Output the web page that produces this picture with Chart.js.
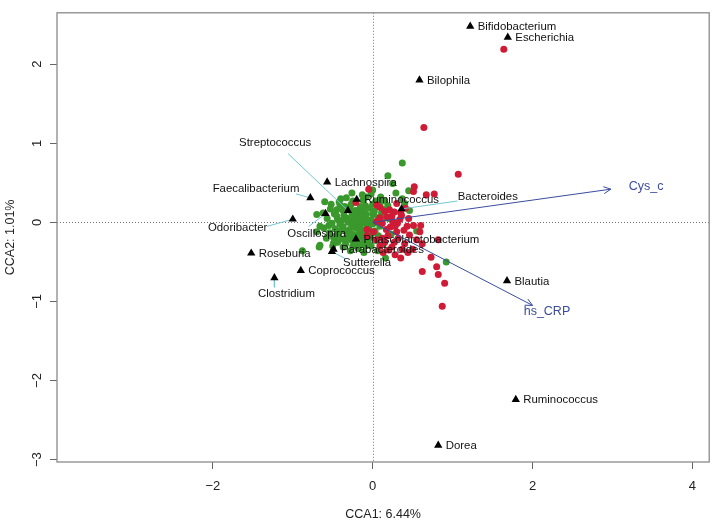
<!DOCTYPE html>
<html>
<head>
<meta charset="utf-8">
<script src="https://cdn.jsdelivr.net/npm/chart.js@4/dist/chart.umd.min.js"></script>
<style>
  html, body { margin: 0; padding: 0; background: #fff; }
</style>
</head>
<body>
<canvas id="cca" width="714" height="523"></canvas>
<script>
// axis ticks
const xTicks = [-2, 0, 2, 4];
const yTicks = [-3, -2, -1, 0, 1, 2];

// site scores (CCA1, CCA2), group 1 = green, group 2 = red
const greenSites = [
  [0.37, 0.75], [0.19, 0.59], [0.25, 0.49], [0.00, 0.41], [0.29, 0.37], [0.45, 0.40],
  [0.37, 0.30], [0.40, 0.24], [0.19, 0.21], [0.46, 0.15], [0.11, 0.12], [0.92, -0.50],
  [0.16, -0.45], [0.55, -0.11], [-0.26, 0.37], [-0.60, 0.26], [-0.62, 0.12], [-0.66, -0.29],
  [-0.49, -0.26], [-0.25, -0.30], [-0.88, -0.36], [-0.67, -0.31], [-0.70, 0.10], [-0.66, -0.05],
  [-0.45, 0.16], [0.00, 0.11], [0.12, 0.04], [0.15, 0.06],
  [-0.33, 0.31], [-0.12, 0.28], [0.04, 0.27], [-0.41, 0.22], [-0.27, 0.23], [-0.09, 0.21],
  [0.09, 0.25], [-0.53, 0.17], [-0.37, 0.15], [-0.29, 0.19], [-0.17, 0.16], [-0.04, 0.18],
  [0.12, 0.17], [-0.48, 0.11], [-0.36, 0.09], [-0.26, 0.12], [-0.19, 0.10], [-0.11, 0.13],
  [0.01, 0.10], [0.07, 0.06], [-0.57, 0.05], [-0.44, 0.04], [-0.34, 0.06], [-0.24, 0.03],
  [-0.17, 0.05], [-0.09, 0.07], [-0.02, 0.03], [0.05, 0.00], [-0.51, -0.01], [-0.41, -0.02],
  [-0.31, 0.00], [-0.22, -0.03], [-0.14, -0.01], [-0.07, -0.04], [0.00, -0.02], [0.09, -0.05],
  [-0.61, -0.07], [-0.47, -0.08], [-0.37, -0.06], [-0.29, -0.09], [-0.21, -0.07], [-0.13, -0.10],
  [-0.05, -0.08], [0.03, -0.11], [-0.54, -0.13], [-0.43, -0.14], [-0.33, -0.12], [-0.25, -0.15],
  [-0.17, -0.13], [-0.09, -0.16], [-0.01, -0.14], [0.07, -0.17], [-0.49, -0.19], [-0.39, -0.21],
  [-0.29, -0.18], [-0.19, -0.20], [-0.11, -0.22], [-0.03, -0.19], [-0.44, -0.25], [-0.34, -0.27],
  [-0.23, -0.24], [-0.14, -0.27], [-0.06, -0.25], [0.04, -0.23], [-0.37, -0.31], [-0.18, -0.33],
  [-0.09, -0.30], [-0.28, -0.36], [-0.11, -0.38], [-0.20, 0.00], [-0.16, -0.05], [-0.26, -0.04],
  [-0.10, 0.02], [-0.31, -0.15], [-0.23, 0.08], [-0.06, -0.12], [0.02, 0.14], [-0.39, 0.02],
  [-0.46, -0.17], [-0.15, 0.20], [-0.52, 0.23], [-0.70, -0.12], [0.13, -0.28], [0.10, 0.32],
  [0.20, 0.05], [0.23, -0.15], [0.15, 0.27], [-0.02, 0.36], [-0.40, 0.30],
  [-0.35, 0.20], [-0.22, 0.15], [-0.08, 0.10], [-0.30, 0.05], [-0.18, -0.08], [-0.40, -0.10],
  [-0.27, -0.22], [-0.12, -0.18], [-0.04, -0.02], [-0.45, 0.08], [-0.55, -0.04], [-0.15, 0.07],
  [-0.33, -0.20], [-0.21, -0.28], [-0.02, -0.30], [0.06, 0.20], [-0.25, 0.27], [-0.50, -0.30],
  [-0.58, -0.20], [-0.08, 0.32], [0.06, -0.36], [-0.42, 0.26], [-0.13, 0.35], [0.00, 0.23]
];

const redSites = [
  [1.64, 2.19], [0.64, 1.20], [1.07, 0.61], [0.52, 0.45], [0.51, 0.39], [0.67, 0.35],
  [0.77, 0.36], [0.30, 0.24], [0.05, 0.22], [0.15, 0.14], [0.21, 0.16], [0.35, 0.12],
  [-0.05, 0.42], [0.36, 0.09], [0.51, -0.04], [0.60, -0.04], [0.12, -0.01], [0.31, -0.01],
  [0.05, 0.01], [0.17, -0.09], [0.30, -0.12], [0.59, -0.12], [0.46, -0.16], [0.15, -0.25],
  [0.27, -0.25], [0.82, -0.22], [0.24, -0.31], [0.37, -0.34], [0.50, -0.34], [0.62, -0.27],
  [0.73, -0.44], [0.62, -0.62], [0.80, -0.56], [0.82, -0.66], [0.90, -0.77], [0.87, -1.06],
  [0.09, -0.30], [0.01, -0.12], [0.19, -0.17], [-0.21, 0.25], [-0.07, -0.09], [-0.07, -0.17],
  [0.09, 0.06], [0.25, 0.01], [0.32, -0.20], [0.40, -0.27], [0.20, -0.35], [0.43, -0.05],
  [0.34, 0.04], [0.22, -0.06], [0.27, 0.13], [0.41, 0.18], [0.09, 0.19], [0.44, -0.38],
  [0.28, -0.41], [0.55, -0.22], [0.13, -0.38],
  [0.18, 0.07], [0.28, -0.05], [0.39, -0.10], [0.12, -0.20], [0.35, -0.45], [0.24, 0.08],
  [0.45, 0.05], [0.05, -0.22]
];

// genus (species) scores
const genusNames = ['Bifidobacterium', 'Escherichia', 'Bilophila', 'Streptococcus', 'Lachnospira',
  'Faecalibacterium', 'Ruminococcus', 'Bacteroides', 'Odoribacter', 'Oscillospira',
  'Phascolarctobacterium', 'Parabacteroides', 'Sutterella', 'Roseburia', 'Coprococcus',
  'Clostridium', 'Blautia', 'Ruminococcus', 'Dorea'];
const genusX = [1.22, 1.69, 0.585, -0.31, -0.57, -0.78, -0.20, 0.36, -1.00, -0.59,
  -0.21, -0.49, -0.51, -1.52, -0.90, -1.23, 1.68, 1.79, 0.82];
const genusY = [2.48, 2.34, 1.80, 0.15, 0.51, 0.31, 0.29, 0.17, 0.04, 0.11,
  -0.21, -0.34, -0.37, -0.39, -0.61, -0.70, -0.74, -2.24, -2.82];

// environmental vectors
const envNames = ['Cys_c', 'hs_CRP'];
const envX = [2.98, 2.00];
const envY = [0.42, -1.05];

// labels moved away from crowded triangles: label centre and leader-line end
const movedLabels = {
  Streptococcus:    { at: [-1.22, 1.01], lead: [-1.06, 0.87] },
  Faecalibacterium: { at: [-1.46, 0.42], lead: [-0.96, 0.36] },
  Odoribacter:      { at: [-1.69, -0.07], lead: [-1.32, -0.05] },
  Oscillospira:     { at: [-0.70, -0.14], lead: [-0.80, -0.05] },
  Sutterella:       { at: [-0.07, -0.51], lead: [-0.34, -0.46] },
  Clostridium:      { at: [-1.08, -0.90], lead: [-1.23, -0.82] },
  Bacteroides:      { at: [1.44, 0.32], lead: [1.06, 0.27] }
};
const envLabelAt = [[3.42, 0.45], [2.18, -1.13]];

const GREEN = '#3a982d';
const RED = '#cf1b36';
const ARROW = '#3b4c9e';
const LEADER = '#72c8d2';
const FONT = '"Liberation Sans", Arial, sans-serif';
const minus = v => String(v).replace('-', '\u2212');

const toPts = arr => arr.map(p => ({ x: p[0], y: p[1] }));

const leaderSets = genusNames.map((name, i) => {
  const m = movedLabels[name];
  if (!m) return null;
  return {
    type: 'scatter', showLine: true, order: 4,
    data: [{ x: genusX[i], y: genusY[i] }, { x: m.lead[0], y: m.lead[1] }],
    borderColor: LEADER, borderWidth: 1, pointRadius: 0
  };
}).filter(Boolean);

const arrowSets = envNames.map((n, i) => ({
  type: 'scatter', showLine: true, order: 3,
  data: [{ x: 0, y: 0 }, { x: envX[i], y: envY[i] }],
  borderColor: ARROW, borderWidth: 1, pointRadius: 0
}));

const overlay = {
  id: 'overlay',
  beforeDatasetsDraw(chart) {
    const { ctx, chartArea: a, scales: { x, y } } = chart;
    ctx.save();
    ctx.strokeStyle = '#777';
    ctx.lineWidth = 1;
    ctx.setLineDash([1, 2]);
    const x0 = Math.round(x.getPixelForValue(0)) + 0.5;
    const y0 = Math.round(y.getPixelForValue(0)) + 0.5;
    ctx.beginPath();
    ctx.moveTo(x0, a.top); ctx.lineTo(x0, a.bottom);
    ctx.moveTo(a.left, y0); ctx.lineTo(a.right, y0);
    ctx.stroke();
    ctx.restore();
  },
  afterDatasetsDraw(chart) {
    const { ctx, chartArea: a, scales: { x, y } } = chart;
    ctx.save();
    // arrow heads
    ctx.strokeStyle = ARROW;
    ctx.lineWidth = 1;
    envNames.forEach((n, i) => {
      const px = x.getPixelForValue(envX[i]), py = y.getPixelForValue(envY[i]);
      const ang = Math.atan2(py - y.getPixelForValue(0), px - x.getPixelForValue(0));
      ctx.beginPath();
      [-0.45, 0.45].forEach(d => {
        ctx.moveTo(px, py);
        ctx.lineTo(px - 8 * Math.cos(ang + d), py - 8 * Math.sin(ang + d));
      });
      ctx.stroke();
    });
    // env labels
    ctx.fillStyle = ARROW;
    ctx.font = '12.5px ' + FONT;
    ctx.textAlign = 'center';
    ctx.textBaseline = 'middle';
    envNames.forEach((n, i) => {
      ctx.fillText(n, x.getPixelForValue(envLabelAt[i][0]), y.getPixelForValue(envLabelAt[i][1]));
    });
    // genus labels
    ctx.fillStyle = '#111';
    ctx.font = '11.4px ' + FONT;
    genusNames.forEach((name, i) => {
      const m = movedLabels[name];
      if (m) {
        ctx.textAlign = 'center';
        ctx.fillText(name, x.getPixelForValue(m.at[0]), y.getPixelForValue(m.at[1]));
      } else {
        ctx.textAlign = 'left';
        ctx.fillText(name, x.getPixelForValue(genusX[i]) + 7.5, y.getPixelForValue(genusY[i]) + 0.5);
      }
    });
    // plot box
    ctx.strokeStyle = '#8a8a8a';
    ctx.lineWidth = 1.3;
    ctx.strokeRect(a.left, a.top, a.right - a.left, a.bottom - a.top);
    ctx.restore();
  }
};

new Chart(document.getElementById('cca'), {
  type: 'scatter',
  data: {
    datasets: [
      { data: toPts(greenSites), backgroundColor: GREEN, borderWidth: 0, pointRadius: 3.5, order: 6 },
      { data: toPts(redSites), backgroundColor: RED, borderWidth: 0, pointRadius: 3.5, order: 5 },
      ...leaderSets,
      ...arrowSets,
      {
        data: genusX.map((v, i) => ({ x: v, y: genusY[i] })),
        pointStyle: 'triangle', pointRadius: 4.8, backgroundColor: '#000', borderWidth: 0, order: 1
      }
    ]
  },
  options: {
    responsive: false,
    animation: false,
    devicePixelRatio: 1,
    layout: { padding: { top: 4, right: 4, left: 0, bottom: 0 } },
    plugins: { legend: { display: false }, tooltip: { enabled: false } },
    scales: {
      x: {
        min: -3.95, max: 4.21,
        afterBuildTicks: s => { s.ticks = xTicks.map(v => ({ value: v })); },
        afterFit: s => { s.height = 61; },
        grid: { drawOnChartArea: false, tickLength: 7, color: '#666', lineWidth: 1 },
        border: { display: false },
        ticks: { color: '#222', padding: 10, font: { family: FONT, size: 13 }, callback: minus },
        title: { display: true, text: 'CCA1: 6.44%', color: '#222', padding: { top: 0, bottom: 1 },
                 font: { family: FONT, size: 12.5 } }
      },
      y: {
        min: -3.03, max: 2.65,
        afterBuildTicks: s => { s.ticks = yTicks.map(v => ({ value: v })); },
        afterFit: s => { s.width = 57; },
        grid: { drawOnChartArea: false, tickLength: 7, color: '#666', lineWidth: 1 },
        border: { display: false },
        ticks: { color: '#222', padding: 5, minRotation: 90, maxRotation: 90, crossAlign: 'center',
                 font: { family: FONT, size: 13 }, callback: minus },
        title: { display: true, text: 'CCA2: 1.01%', color: '#222', padding: { top: 3, bottom: 0 },
                 font: { family: FONT, size: 12.5 } }
      }
    }
  },
  plugins: [overlay]
});
</script>
</body>
</html>
